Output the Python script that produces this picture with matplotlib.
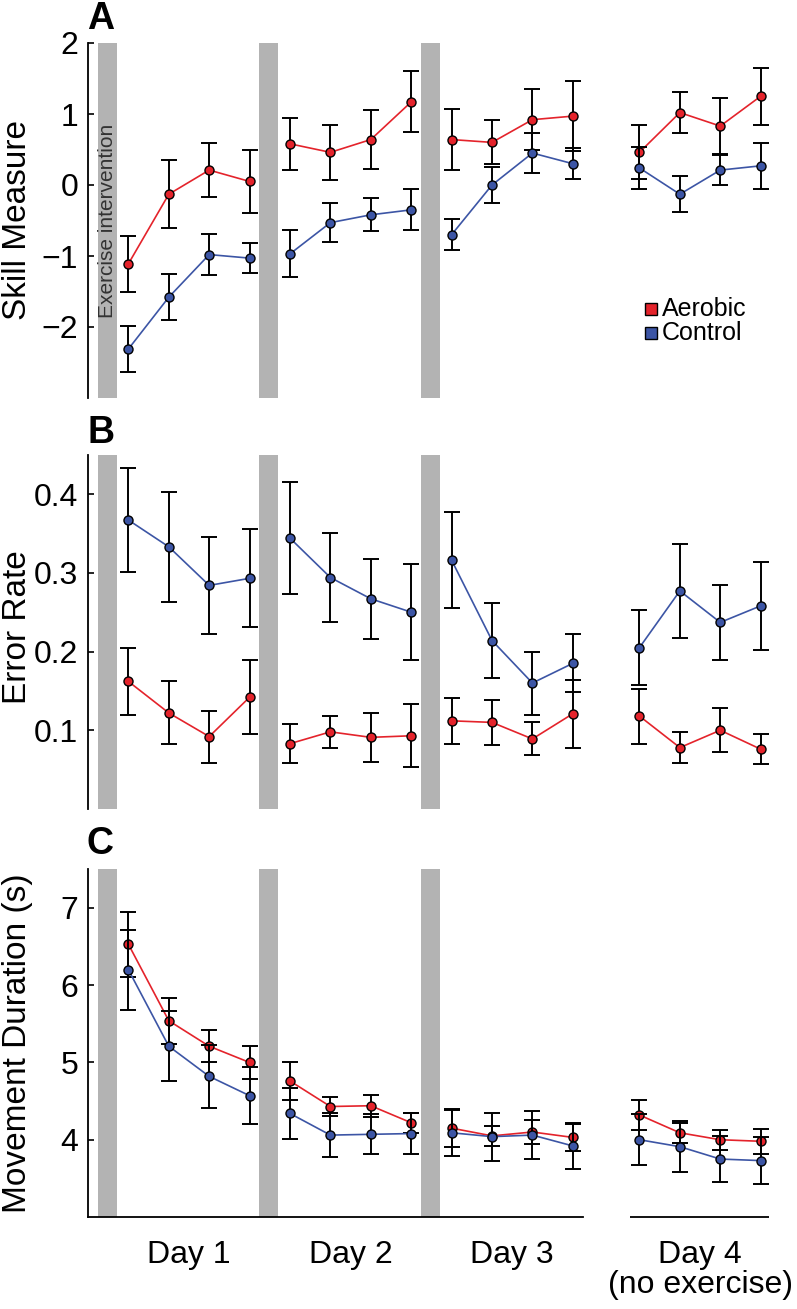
import numpy as np
import matplotlib
matplotlib.use("Agg")
import matplotlib.pyplot as plt
from matplotlib.lines import Line2D

plt.rcParams['font.family'] = ['Liberation Sans', 'DejaVu Sans']

# Data (mean, sem) - 4 blocks per day, days 1-4
days = ["Day 1", "Day 2", "Day 3", "Day 4"]
groups = ["Aerobic", "Control"]

aer_skill = [-1.11, -0.13, 0.21, 0.05, 0.58, 0.46, 0.64, 1.17,
             0.64, 0.60, 0.92, 0.97, 0.46, 1.02, 0.83, 1.25]
aer_skill_sem = [0.39, 0.48, 0.38, 0.45, 0.37, 0.39, 0.42, 0.43,
                 0.43, 0.31, 0.43, 0.49, 0.38, 0.29, 0.40, 0.40]
con_skill = [-2.31, -1.58, -0.98, -1.03, -0.97, -0.53, -0.42, -0.35,
             -0.70, 0.00, 0.45, 0.30, 0.24, -0.13, 0.21, 0.27]
con_skill_sem = [0.32, 0.32, 0.29, 0.21, 0.33, 0.27, 0.23, 0.29,
                 0.22, 0.26, 0.28, 0.22, 0.30, 0.25, 0.21, 0.32]

aer_error = [0.162, 0.122, 0.092, 0.142, 0.083, 0.098, 0.091, 0.093,
             0.112, 0.110, 0.089, 0.121, 0.118, 0.078, 0.100, 0.076]
aer_error_sem = [0.043, 0.040, 0.033, 0.047, 0.025, 0.020, 0.031, 0.040,
                 0.029, 0.029, 0.021, 0.043, 0.035, 0.020, 0.028, 0.019]
con_error = [0.367, 0.333, 0.284, 0.293, 0.344, 0.294, 0.267, 0.250,
             0.316, 0.214, 0.160, 0.185, 0.205, 0.277, 0.237, 0.258]
con_error_sem = [0.066, 0.070, 0.062, 0.062, 0.071, 0.056, 0.051, 0.061,
                 0.061, 0.048, 0.040, 0.037, 0.048, 0.060, 0.048, 0.056]

aer_dur = [6.53, 5.54, 5.21, 5.00, 4.76, 4.43, 4.44, 4.22,
           4.15, 4.05, 4.10, 4.03, 4.32, 4.09, 4.00, 3.98]
aer_dur_sem = [0.42, 0.30, 0.21, 0.21, 0.24, 0.12, 0.14, 0.13,
               0.25, 0.13, 0.16, 0.17, 0.20, 0.13, 0.13, 0.16]
con_dur = [6.20, 5.21, 4.82, 4.57, 4.34, 4.06, 4.07, 4.08,
           4.09, 4.04, 4.06, 3.92, 4.00, 3.91, 3.75, 3.73]
con_dur_sem = [0.52, 0.45, 0.41, 0.37, 0.33, 0.28, 0.26, 0.26,
               0.30, 0.31, 0.31, 0.30, 0.33, 0.33, 0.30, 0.30]

# layout
day_start = [1, 5, 9, 13.65]
n_blocks = 4
red = '#E4232B'
blue = '#3C55A5'
grey = '#B3B3B3'

W, H = 797, 1309
fig = plt.figure(figsize=(W / 100, H / 100), dpi=100)

px_per_unit = 40.4
left_px = 88
xmax = (770 - left_px) / px_per_unit


def add_panel(top_px, bot_px):
    return fig.add_axes([left_px / W, 1 - bot_px / H,
                         (770 - left_px) / W, (bot_px - top_px) / H])


axA = add_panel(43, 398)
axB = add_panel(454.7, 809)
axC = add_panel(869.3, 1217)

panels = [
    (axA, aer_skill, aer_skill_sem, con_skill, con_skill_sem, (-3, 2), [-2, -1, 0, 1, 2], 'Skill Measure', 'A', 29.3, 220),
    (axB, aer_error, aer_error_sem, con_error, con_error_sem, (0, 0.45), [0.1, 0.2, 0.3, 0.4], 'Error Rate', 'B', 443.3, 627),
    (axC, aer_dur, aer_dur_sem, con_dur, con_dur_sem, (3, 7.5), [4, 5, 6, 7], 'Movement Duration (s)', 'C', 853.5, 1043),
]

for ax, am, asem, cm, csem, ylim, yticks, ylabel, letter, letter_y, label_y in panels:
    ax.set_xlim(0, xmax)
    ax.set_ylim(*ylim)
    # exercise bars before days 1-3
    for d in range(3):
        ax.axvspan(day_start[d] - 0.76, day_start[d] - 0.29, color=grey, lw=0, zorder=1)

    for mean, sem, col, z in [(am, asem, red, 3), (cm, csem, blue, 5)]:
        for d in range(4):
            x = day_start[d] + np.arange(n_blocks)
            m = np.array(mean[d * 4:(d + 1) * 4])
            s = np.array(sem[d * 4:(d + 1) * 4])
            ax.errorbar(x, m, yerr=s, fmt='none', ecolor='black', elinewidth=1.4,
                        capsize=6, capthick=1.4, zorder=z)
            ax.plot(x, m, color=col, lw=1.2, marker='o', markersize=6.5,
                    markerfacecolor=col, markeredgecolor='black', markeredgewidth=1.0,
                    zorder=z + 0.5)

    for sp in ['top', 'right', 'bottom']:
        ax.spines[sp].set_visible(False)
    ax.spines['left'].set_linewidth(1.3)
    ax.set_xticks([])
    ax.set_yticks(yticks)
    ax.set_yticklabels([('%g' % t).replace('-', '\u2212') for t in yticks])
    ax.tick_params(axis='y', direction='in', length=4, width=1.2, labelsize=23, pad=7)

    fig.text(2 / W, 1 - label_y / H, ylabel, rotation=90, ha='left', va='center', fontsize=24)
    fig.text(87 / W, 1 - letter_y / H, letter, fontsize=27, fontweight='bold',
             ha='left', va='baseline')

# panel A annotation inside first grey bar
axA.text(day_start[0] - 0.525, -0.5, 'Exercise intervention', rotation=90,
         ha='center', va='center', fontsize=15, color='#333333', zorder=2)

# bottom axis segments in panel C
axC.spines['bottom'].set_visible(True)
axC.spines['bottom'].set_linewidth(1.3)
axC.spines['bottom'].set_bounds(0, 12.25)
axC.plot([day_start[3] - 0.23, day_start[3] + 3.21], [3, 3], color='black', lw=1.3,
         clip_on=False, solid_capstyle='butt')

for d in range(4):
    xc = day_start[d] + 1.5
    axC.text(xc, 2.41, days[d], ha='center', va='baseline', fontsize=23)
axC.text(day_start[3] + 1.5, 2.02, '(no exercise)', ha='center', va='baseline', fontsize=23)

# legend
for i, (g, col) in enumerate(zip(groups, [red, blue])):
    yy = 1 - (308.5 + 24.5 * i) / H
    fig.add_artist(Line2D([650.5 / W], [yy], marker='s', markersize=8.5,
                          markerfacecolor=col, markeredgecolor='black',
                          markeredgewidth=1.0, linestyle='none'))
    fig.text(662 / W, 1 - (316 + 24.5 * i) / H, g, fontsize=18, ha='left', va='baseline')

fig.savefig('out.png', dpi=100)
